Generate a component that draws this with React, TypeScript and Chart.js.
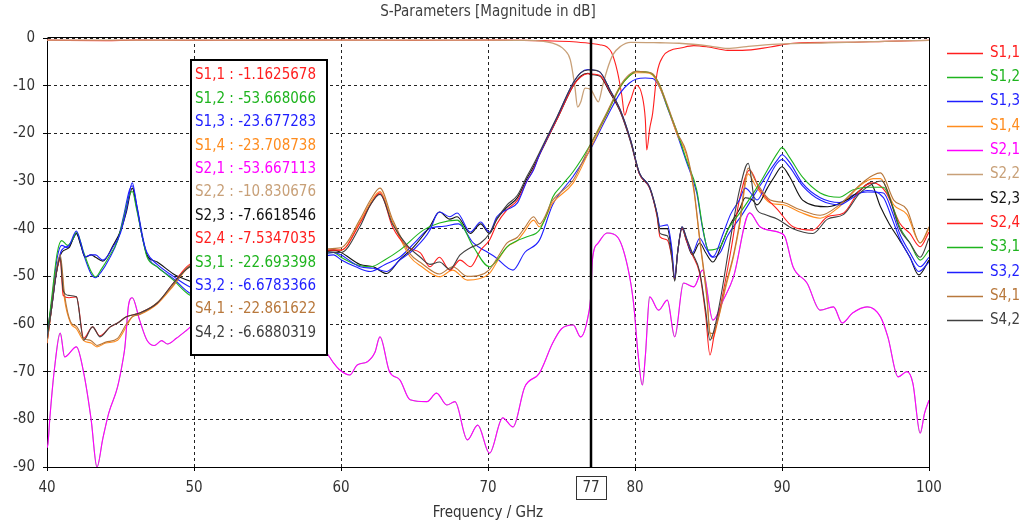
import React, { useEffect, useRef } from "react";
import { Chart, registerables } from "chart.js";

Chart.register(...registerables);

type P = [number, number];

const FONT = '"DejaVu Sans Condensed", "Liberation Sans", Arial, sans-serif';
const FS = 15;

const chartTitle = "S-Parameters [Magnitude in dB]";
const xTitle = "Frequency / GHz";
const xMin = 40, xMax = 100, xStep = 10;
const yMin = -90, yMax = 0, yStep = 10;

const seriesNames = ["S1,1", "S1,2", "S1,3", "S1,4", "S2,1", "S2,2", "S2,3", "S2,4", "S3,1", "S3,2", "S4,1", "S4,2"];
const seriesColors = ["#ff1e1e", "#1eb41e", "#1e1eff", "#ff8c1e", "#ff00ff", "#c8a078", "#111111", "#ff1e1e", "#1eb41e", "#1e1eff", "#b8783c", "#404040"];
const seriesWidths = [1.1, 0.5, 1.1, 1.1, 1.15, 1.3, 1.1, 1.1, 1.1, 1.1, 1.1, 1.1];

const markerFreq = 77;
const markerValues = ["-1.1625678", "-53.668066", "-23.677283", "-23.708738", "-53.667113", "-10.830676", "-7.6618546", "-7.5347035", "-22.693398", "-6.6783366", "-22.861622", "-6.6880319"];

const s11: P[] = [[40,-0.45],[44,-0.55],[46,-0.45],[50,-0.5],[55,-0.45],[60,-0.45],[65,-0.5],[70,-0.45],[72.4,-0.5],[74,-0.6],[75.8,-0.8],[77,-1.16],[77.6,-1.4],[78.1,-1.9],[78.4,-3],[78.8,-7],[79.1,-12],[79.3,-16.2],[79.5,-14.5],[79.7,-13],[80.1,-9.9],[80.5,-12.3],[80.7,-17],[80.8,-23.5],[81.0,-19],[81.2,-15.8],[81.5,-7.4],[81.9,-3.9],[82.4,-2.6],[83.1,-2.1],[84,-1.6],[85,-1.9],[86.3,-2.6],[87.3,-2.6],[89.2,-1.9],[90.75,-1.1],[94.2,-0.9],[97,-0.7],[100,-0.5]];

const s22: P[] = [[40,-0.45],[50,-0.45],[60,-0.45],[70,-0.45],[72.5,-0.5],[74.4,-1.1],[75.2,-2.5],[75.6,-4.6],[75.9,-10],[76.1,-14.5],[76.3,-13.5],[76.6,-10.5],[77,-10.83],[77.3,-12.5],[77.5,-13.4],[77.8,-10],[78.1,-6.7],[78.5,-3.5],[79,-1.8],[79.7,-0.9],[81.7,-1],[83,-1.1],[85.1,-1.7],[86.3,-2.2],[87.6,-1.8],[89.7,-1.3],[93.1,-1],[97,-0.7],[100,-0.5]];

const s21: P[] = [[40,-86],[40.07,-85],[40.2,-79.5],[40.5,-69.6],[40.9,-61.9],[41.2,-66.9],[42.0,-64.8],[42.5,-70.3],[43.0,-80],[43.4,-90],[43.8,-84],[44.2,-78.7],[44.8,-73.2],[45.17,-67.5],[45.3,-64.8],[45.55,-56],[45.8,-54.5],[46.3,-59.2],[46.8,-63.4],[47.3,-64.5],[47.8,-63.5],[48.2,-64.2],[48.8,-63],[49.5,-61.3],[50,-60],[51,-59],[52,-61],[53,-58],[54,-60],[55,-62],[56,-61],[57,-63],[58,-64],[59,-66],[59.5,-68.2],[59.9,-69.6],[60.6,-70.7],[61.1,-68.6],[61.8,-67.9],[62.3,-66],[62.65,-62.7],[63.3,-70],[64.0,-71.7],[64.7,-75.9],[65.85,-76.3],[66.5,-74.5],[67.2,-77],[67.75,-76.3],[68.6,-84.3],[69.3,-81.2],[70.1,-87.1],[71.0,-79.7],[71.7,-81.6],[72.5,-73.2],[73.5,-70.3],[74.4,-64],[75.0,-61],[75.8,-60.2],[76.3,-62.7],[76.8,-58.5],[77.0,-53.7],[77.1,-46.6],[77.5,-43],[78.1,-40.9],[78.8,-41.7],[79.5,-48],[79.9,-55.6],[80.2,-66],[80.5,-72.8],[80.7,-66.9],[81.0,-54.3],[81.6,-57.1],[82.2,-55],[82.7,-62.7],[83.3,-51.4],[84.0,-52.2],[84.6,-48.7],[85.3,-59.2],[86.0,-55],[86.7,-50.1],[87.8,-36.7],[88.5,-39.6],[89.9,-40.9],[90.2,-41.7],[90.75,-48],[91.7,-51.4],[92.6,-57.1],[93.5,-56.4],[94.1,-59.8],[94.8,-57.7],[95.8,-56.4],[96.7,-58.5],[97.2,-62.7],[97.9,-71.1],[98.5,-70],[98.9,-72.4],[99.4,-82.9],[99.7,-78.7],[100,-76]];

// S1,2 is the reciprocal of S2,1 (same readout value), hidden beneath it
const s12: P[] = s21;

const s31: P[] = [[40,-63],[40.3,-55],[40.7,-45],[41.0,-42.5],[41.4,-43.5],[41.8,-42],[42.0,-40.7],[42.5,-45],[43.0,-49],[43.3,-50.1],[43.7,-48.5],[44.2,-46],[44.8,-42.5],[45.2,-38],[45.6,-33],[45.8,-32.2],[46.1,-36],[46.5,-42],[46.8,-45.9],[47.5,-48],[48.6,-50.8],[49.7,-53.9],[50.5,-54.5],[52,-52],[54,-50],[56,-48],[58,-46],[59.5,-45],[60,-46],[61,-47.5],[62,-48],[63,-46.5],[64,-44.5],[65.6,-40.3],[66.7,-38.8],[67.9,-38.2],[69,-43.8],[70.1,-48],[70.5,-47],[71.3,-43.8],[72,-42.5],[72.65,-41.7],[73.5,-40.3],[74.0,-37],[74.4,-33.4],[75.0,-31],[75.8,-28],[76.9,-22.7],[78.1,-15.8],[79.0,-10.2],[79.6,-8],[80.1,-7.0],[80.7,-7.1],[81.2,-7.6],[81.7,-10],[82.2,-14.4],[82.9,-20],[83.5,-25.6],[84.2,-31.9],[84.6,-39.6],[85.0,-44.5],[85.8,-43.8],[86.3,-40.3],[87.3,-36],[88.5,-30.4],[89.7,-24.1],[90.0,-23],[90.5,-25],[91.4,-29.2],[92.6,-32.5],[93.9,-33.4],[94.8,-31.9],[95.8,-31.3],[96.9,-31.3],[97.5,-35],[98.0,-39.6],[98.7,-43],[99.4,-46.6],[100,-44.5]];

const s13: P[] = [[40,-63.5],[40.3,-56],[40.7,-46],[41.0,-43.5],[41.4,-44],[41.8,-42],[42.0,-41],[42.5,-45.5],[43.0,-49.5],[43.3,-50.3],[43.7,-49],[44.2,-46.5],[44.8,-42.5],[45.2,-37.5],[45.6,-32],[45.8,-31],[46.1,-35],[46.5,-41.5],[46.8,-45.5],[47.5,-48],[48.6,-50.5],[49.7,-53.5],[50.5,-54],[52,-52.5],[54,-50.5],[56,-48.5],[58,-46.5],[59.5,-45.5],[60,-46.5],[61,-48],[62,-49],[63,-47.5],[64,-46],[65,-43],[66,-40],[67,-39.5],[68,-39],[69,-43],[70,-45],[70.5,-46],[71.7,-48.7],[72.5,-45],[73.5,-42.4],[74.4,-35],[75.8,-29],[76.9,-23.7],[78.1,-16.5],[79.0,-11.5],[79.6,-9.5],[80.1,-8.6],[80.7,-8.4],[81.2,-8.5],[81.7,-10.5],[82.2,-14.6],[82.9,-20.5],[83.5,-26],[84.2,-32.5],[84.6,-40],[85.0,-45],[85.3,-46],[85.8,-45],[86.3,-41.5],[87.3,-37],[88.5,-31],[89.7,-25.5],[90.0,-24.5],[90.5,-26],[91.4,-30.5],[92.6,-33.5],[93.9,-34.5],[94.8,-33],[95.8,-32.3],[96.9,-32.5],[97.5,-36.5],[98.0,-41],[98.7,-45],[99.4,-48],[100,-46]];

const s32: P[] = [[40,-63],[40.3,-57],[40.7,-48],[41.0,-44.5],[41.5,-43.5],[42.0,-40.5],[42.3,-43],[42.6,-45.9],[43.0,-45.5],[43.3,-45.5],[43.8,-46.6],[44.5,-43.8],[45.0,-40.9],[45.4,-36],[45.8,-30.4],[46.1,-35],[46.5,-42],[46.8,-45],[47.5,-47.5],[48.6,-50],[49.7,-52.2],[50.5,-53],[52,-52],[54,-50],[56,-48],[58,-46],[59.5,-45],[60,-45.5],[61.3,-48],[62.2,-48.3],[63.1,-49],[64.0,-46.6],[64.9,-44.5],[66.05,-40.3],[66.5,-37],[66.7,-36.5],[67.4,-37.5],[67.9,-36.7],[68.8,-40.7],[69.5,-38.6],[70.1,-40.7],[70.6,-37.5],[71.3,-36],[72.0,-34.6],[72.65,-30],[73.1,-27.7],[73.5,-24.5],[74.7,-16.6],[75.8,-9.4],[76.3,-7.3],[76.8,-6.6],[77.0,-6.68],[77.6,-7.1],[78.3,-10.9],[79.0,-15.1],[79.7,-21.4],[80.3,-28.3],[81.0,-31.3],[81.5,-36.7],[81.7,-39.5],[82.2,-39.2],[82.5,-44],[82.7,-50.3],[82.9,-45],[83.2,-39.6],[83.5,-42],[83.9,-45.1],[84.4,-42],[84.8,-44],[85.3,-45.9],[86.0,-41],[86.5,-37],[87.1,-34],[87.5,-31.5],[88.0,-33],[88.3,-34],[89.0,-30],[89.5,-27],[90.0,-25.5],[90.5,-27],[91.4,-31],[92.6,-34],[93.9,-35],[94.8,-33.5],[95.8,-32],[96.9,-33.5],[97.5,-38],[98.0,-42],[98.7,-46],[99.3,-49],[100,-47]];

const s23: P[] = [[40,-62],[40.3,-56],[40.7,-48],[41.0,-45],[41.5,-44],[42.0,-41],[42.3,-43.5],[42.6,-46],[43.0,-45.5],[43.3,-46],[43.8,-46.8],[44.5,-43.5],[45.0,-40.5],[45.4,-36.5],[45.8,-31.5],[46.1,-35.5],[46.5,-42],[46.8,-45.5],[47.5,-47],[48.6,-49.5],[49.7,-51],[50.5,-52],[52,-51.5],[54,-49.5],[56,-47.5],[58,-45.5],[59.5,-44.5],[60,-45],[61.3,-47.5],[62.2,-48],[63.1,-49.4],[64.0,-46.5],[64.9,-44],[66.05,-39.5],[66.7,-36.5],[67.4,-38],[67.9,-37.5],[68.8,-41],[69.5,-39],[70.1,-41],[70.6,-38],[71.3,-35.5],[72.0,-33.5],[72.65,-29.5],[73.1,-27],[73.5,-24.5],[74.7,-17],[75.8,-10],[76.3,-8],[76.8,-7.4],[77.0,-7.66],[77.6,-8],[78.3,-11.5],[79.0,-15.5],[79.7,-21.8],[80.3,-28.5],[81.0,-31.5],[81.5,-37],[81.7,-40],[82.2,-40],[82.5,-45],[82.7,-50.8],[82.9,-45],[83.2,-40],[83.5,-42.5],[83.9,-45.5],[84.4,-43],[84.8,-45],[85.3,-47],[86.0,-42.5],[86.5,-39],[87.1,-36],[87.5,-33.5],[88.0,-34],[88.3,-35],[89.0,-31.5],[89.5,-29],[90.0,-27],[90.5,-29],[91.4,-34],[93.1,-35.4],[94.4,-34],[95.3,-32],[96.0,-30.4],[96.7,-35.4],[97.3,-39],[98.0,-42.4],[98.7,-46],[99.3,-49.7],[100,-46.6]];

const s24: P[] = [[40,-64],[40.3,-57],[40.6,-50],[40.9,-46.5],[41.1,-54],[41.5,-54.5],[42.0,-54.3],[42.5,-63],[43.1,-60.6],[43.6,-62.5],[44.3,-60.6],[44.8,-59.8],[45.4,-58.5],[46.3,-57.7],[47.5,-55.6],[48.6,-51.4],[49.5,-48],[50.5,-46],[52,-43.5],[54,-43],[56,-44],[58,-44.5],[60,-44.5],[61.3,-38.8],[62.0,-35],[62.65,-32.5],[63.5,-39.6],[64.5,-43.8],[65.4,-45.1],[66.05,-48],[66.7,-46],[67.4,-48.7],[68.1,-46.6],[68.8,-48],[69.5,-44.5],[70.1,-42.4],[70.6,-39],[71.3,-36],[72.0,-34],[72.65,-30],[73.1,-27.5],[73.5,-24.5],[74.7,-17],[75.8,-10],[76.3,-8.2],[76.8,-7.5],[77.0,-7.53],[77.6,-7.8],[78.3,-11.2],[79.0,-15.3],[79.7,-21.6],[80.3,-28.5],[81.0,-31.5],[81.5,-37.5],[81.7,-41.7],[82.2,-42.4],[82.5,-46],[82.7,-50.5],[82.9,-45],[83.2,-39.8],[83.5,-42.5],[83.9,-45.5],[84.4,-49.4],[84.8,-58],[85.1,-66.5],[85.4,-62],[85.8,-56.4],[86.5,-45],[87.1,-34],[87.8,-27.7],[88.5,-31.9],[89.7,-36],[90.75,-39.6],[92.1,-40.3],[93.1,-37.5],[94.2,-36.7],[95.3,-31.9],[96.2,-30.4],[97.1,-32.5],[98.0,-38.8],[98.7,-41],[99.4,-43.8],[100,-40.7]];

const s42: P[] = [[40,-63],[40.3,-57],[40.6,-50],[40.9,-46],[41.1,-53],[41.5,-54],[42.0,-54.3],[42.5,-63.4],[43.1,-60.6],[43.6,-62.7],[44.3,-60.6],[44.8,-59.8],[45.4,-58.5],[46.3,-57.7],[47.5,-55.6],[48.6,-51.4],[49.5,-48.5],[50.5,-46.5],[52,-44],[54,-43.5],[56,-44],[58,-44.5],[60,-45],[61.3,-39.5],[62.0,-35],[62.65,-32.8],[63.5,-39],[64.5,-43.5],[65.4,-46],[66.05,-47.5],[66.7,-47],[67.4,-48.5],[68.1,-45.5],[68.8,-44],[69.5,-43],[70.1,-41],[70.6,-38],[71.3,-35],[72.0,-33],[72.65,-29],[73.1,-26.5],[73.5,-24],[74.7,-16.5],[75.8,-9.4],[76.3,-7.3],[76.8,-6.7],[77.0,-6.69],[77.6,-7.1],[78.3,-10.9],[79.0,-15.1],[79.7,-21.4],[80.3,-28.3],[81.0,-31.3],[81.5,-37],[81.7,-41],[82.2,-41.5],[82.5,-46],[82.7,-51],[82.9,-45],[83.2,-39.6],[83.5,-42],[83.9,-45.1],[84.4,-49],[84.8,-57],[85.1,-63.4],[85.4,-61],[85.8,-55],[86.5,-42],[87.1,-32],[87.7,-26.3],[88.2,-35.4],[88.8,-37],[89.7,-38],[90.75,-40],[92.1,-41],[93.1,-38],[94.2,-37],[95.3,-32.5],[96.2,-30.5],[96.8,-30],[97.1,-31.5],[98.0,-40],[98.7,-43],[99.4,-46],[100,-42]];

const s14: P[] = [[40,-64],[40.3,-57],[40.6,-50],[40.9,-46.5],[41.2,-55],[41.6,-59.8],[42.0,-61],[42.5,-63.5],[43.0,-64],[43.4,-64.8],[44.0,-64],[44.8,-63.4],[45.4,-60.5],[45.8,-58.5],[46.3,-58],[47.5,-55.8],[48.6,-52],[49.5,-48.5],[50.5,-46.5],[52,-44],[54,-43.5],[56,-44],[58,-44.5],[60,-44.5],[61.3,-38.5],[62.0,-34.5],[62.65,-32.2],[63.5,-38.5],[64.7,-45.9],[65.5,-48],[66.7,-50.1],[67.6,-48.7],[68.6,-50.8],[69.4,-50.5],[70.1,-49.4],[70.7,-46.5],[71.3,-43.8],[72.0,-42.5],[72.5,-40.5],[73.1,-38.2],[73.5,-39.6],[74.4,-34.6],[75.8,-30.4],[76.9,-23.6],[78.1,-16],[79.0,-10.3],[79.6,-8],[80.1,-7.3],[80.7,-7.3],[81.2,-7.8],[81.7,-10.5],[82.2,-14.4],[82.9,-20.5],[83.5,-24.5],[84.0,-32],[84.4,-42.4],[84.9,-55],[85.1,-62],[85.3,-63],[85.6,-59.8],[86.2,-52],[86.7,-45.9],[87.1,-39.6],[87.7,-28.5],[88.2,-31],[89.2,-34.6],[90.1,-35],[91.2,-36.5],[92.6,-37.8],[93.9,-35.4],[95.3,-31],[96.2,-29.5],[96.7,-29.5],[97.6,-35],[98.5,-37],[99.4,-43],[100,-40]];

const s41: P[] = [[40,-64],[40.3,-57],[40.6,-49.5],[40.9,-45.5],[41.2,-54],[41.6,-59.5],[42.0,-60.5],[42.5,-63],[43.0,-63.5],[43.4,-64.5],[44.0,-63.8],[44.8,-63],[45.4,-60],[45.8,-58.5],[46.3,-58],[47.5,-55.5],[48.6,-51.8],[49.5,-48.3],[50.5,-46.3],[52,-44],[54,-43.5],[56,-44],[58,-44.3],[60,-44],[61.3,-38],[62.0,-34],[62.65,-31.5],[63.5,-38],[64.7,-45.3],[65.5,-47.3],[66.7,-49.5],[67.6,-48],[68.6,-50],[69.4,-49.8],[70.1,-48.6],[70.7,-45.8],[71.3,-43],[72.0,-41.8],[72.5,-39.8],[73.1,-37.5],[73.5,-39],[74.4,-34],[75.8,-29.8],[76.9,-22.8],[78.1,-15.5],[79.0,-10],[79.6,-7.7],[80.1,-7.0],[80.7,-7.1],[81.2,-7.5],[81.7,-10],[82.2,-14],[82.9,-20],[83.5,-24],[84.0,-31.5],[84.4,-42],[84.9,-54.5],[85.1,-61.9],[85.3,-62],[85.6,-59.5],[86.2,-51.5],[86.7,-45.5],[87.1,-39],[87.7,-27.3],[88.2,-30],[89.2,-34],[90.1,-34.5],[91.2,-36],[92.6,-37.2],[93.9,-35],[95.3,-30.8],[96.2,-28.8],[96.7,-28.3],[97.6,-34],[98.5,-36],[99.4,-43],[100,-39.6]];

const seriesData: P[][] = [s11, s12, s13, s14, s21, s22, s23, s24, s31, s32, s41, s42];

const overlayPlugin = {
  id: "overlay",
  afterDraw(chart: any) {
    const { ctx, chartArea: a, scales } = chart;
    const xs = scales.x;
    ctx.save();
    // plot frame (top and right)
    ctx.strokeStyle = "#000";
    ctx.lineWidth = 1;
    ctx.setLineDash([]);
    ctx.beginPath();
    ctx.moveTo(Math.round(a.left) + 0.5, Math.round(a.top) - 0.5);
    ctx.lineTo(Math.round(a.right) + 0.5, Math.round(a.top) - 0.5);
    ctx.lineTo(Math.round(a.right) + 0.5, Math.round(a.bottom) + 0.5);
    ctx.stroke();

    // marker line
    const mx = Math.round(xs.getPixelForValue(markerFreq));
    ctx.lineWidth = 2.5;
    ctx.beginPath();
    ctx.moveTo(mx, a.top);
    ctx.lineTo(mx, a.bottom);
    ctx.stroke();

    ctx.font = `${FS}px ${FONT}`;
    ctx.textBaseline = "middle";

    // marker label box
    ctx.lineWidth = 1;
    ctx.strokeStyle = "#333";
    ctx.strokeRect(mx - 15 + 0.5, 476.5, 30, 23);
    ctx.fillStyle = "#333";
    ctx.textAlign = "center";
    ctx.fillText(String(markerFreq), mx, 488.5);

    // readout box
    const bx = Math.round(xs.getPixelForValue(50)) - 3;
    ctx.fillStyle = "#fff";
    ctx.fillRect(bx, 60, 136, 295);
    ctx.strokeStyle = "#000";
    ctx.lineWidth = 2;
    ctx.strokeRect(bx, 60, 136, 295);
    ctx.textAlign = "left";
    for (let i = 0; i < seriesNames.length; i++) {
      ctx.fillStyle = seriesColors[i];
      ctx.fillText(`${seriesNames[i]} : ${markerValues[i]}`, bx + 4, 75.5 + i * 23.4);
    }

    // legend
    for (let i = 0; i < seriesNames.length; i++) {
      const ly = Math.round(52.7 + i * 24.33) + 0.5;
      ctx.strokeStyle = seriesColors[i];
      ctx.lineWidth = 1.5;
      ctx.beginPath();
      ctx.moveTo(947, ly);
      ctx.lineTo(983, ly);
      ctx.stroke();
      ctx.fillStyle = seriesColors[i];
      ctx.fillText(seriesNames[i], 990, ly);
    }

    // titles
    const cx = (a.left + a.right) / 2;
    ctx.textAlign = "center";
    ctx.fillStyle = "#404040";
    ctx.fillText(chartTitle, cx, 12.5);
    ctx.fillStyle = "#333";
    ctx.fillText(xTitle, cx, 513.5);
    ctx.restore();
  },
};

export default function App() {
  const ref = useRef<HTMLCanvasElement>(null);
  useEffect(() => {
    if (!ref.current) return;
    const datasets = seriesData.map((d, i) => ({
      label: seriesNames[i],
      data: d.map(([f, v]) => ({ x: f, y: v })),
      borderColor: seriesColors[i],
      backgroundColor: seriesColors[i],
      borderWidth: seriesWidths[i],
      pointRadius: 0,
      fill: false,
      cubicInterpolationMode: "monotone",
      order: seriesNames.length - i,
    }));
    const chart = new Chart(ref.current, {
      type: "line",
      data: { datasets },
      options: {
        animation: false,
        responsive: false,
        devicePixelRatio: 1,
        events: [],
        layout: { padding: { left: 0, right: 94, top: 38, bottom: 0 } },
        plugins: { legend: { display: false }, title: { display: false }, tooltip: { enabled: false } },
        scales: {
          x: {
            type: "linear",
            min: xMin,
            max: xMax,
            ticks: { stepSize: xStep, font: { family: FONT, size: FS }, color: "#333", padding: 8, maxRotation: 0 },
            grid: { color: "#222", lineWidth: 1, tickLength: 4, tickColor: "#000", tickWidth: 1 },
            border: { display: true, color: "#000", width: 1, dash: [3, 3] },
            afterFit: (s: any) => { s.height = 57; },
          },
          y: {
            type: "linear",
            min: yMin,
            max: yMax,
            ticks: { stepSize: yStep, font: { family: FONT, size: FS }, color: "#333", padding: 8 },
            grid: { color: "#222", lineWidth: 1, tickLength: 4, tickColor: "#000", tickWidth: 1 },
            border: { display: true, color: "#000", width: 1, dash: [3, 3] },
            afterFit: (s: any) => { s.width = 47; },
          },
        },
      } as any,
      plugins: [overlayPlugin],
    });
    return () => chart.destroy();
  }, []);
  return (
    <div style={{ position: "fixed", left: 0, top: 0, width: 1023, height: 524, background: "#fff" }}>
      <canvas ref={ref} width={1023} height={524} style={{ display: "block" }} />
    </div>
  );
}
